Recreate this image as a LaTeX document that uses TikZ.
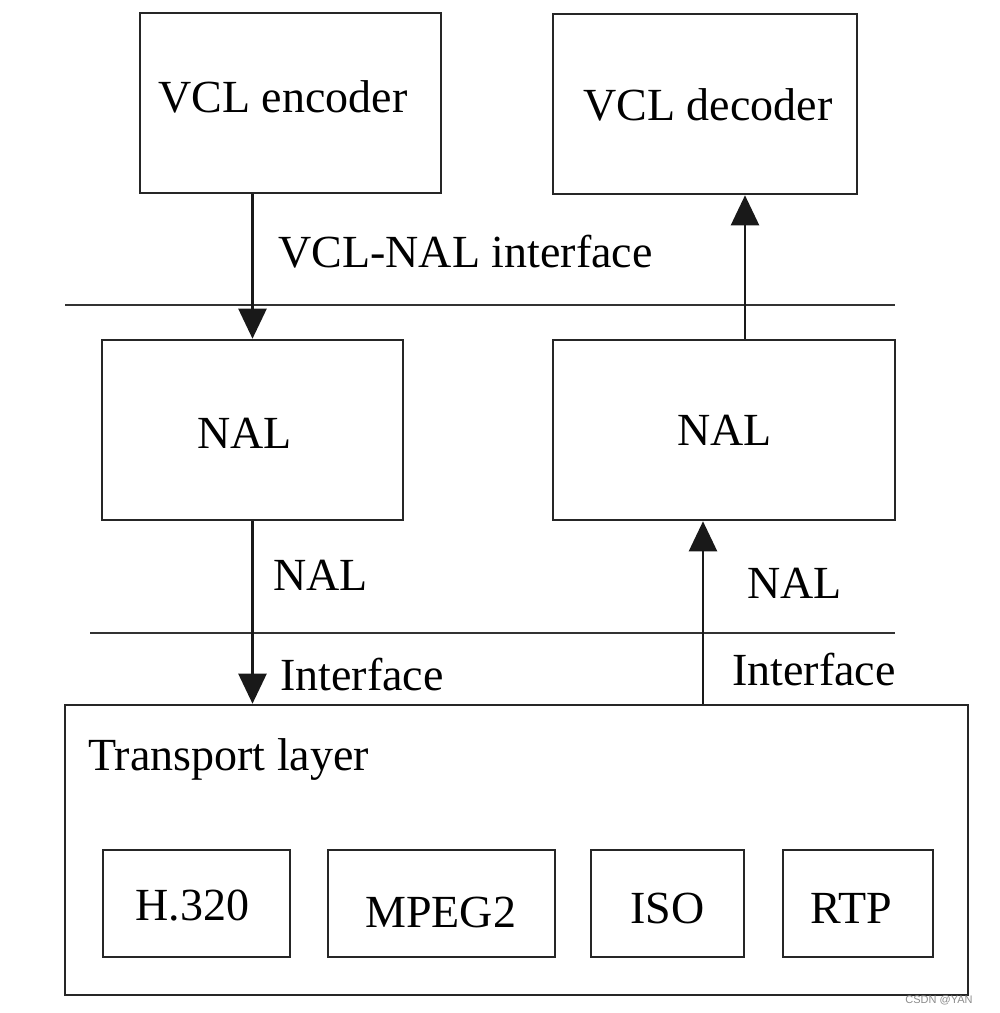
\documentclass[tikz,border=0pt]{standalone}
\usepackage{fontspec}
\setmainfont{Liberation Serif}
\newfontfamily\wmfont{Liberation Sans}
\usetikzlibrary{arrows.meta}
\begin{document}
\begin{tikzpicture}[x=0.5pt,y=-0.5pt,
  box/.style={draw=black!85, line width=1.3pt, inner sep=0pt, font=\fontsize{23}{27}\selectfont},
  lbl/.style={inner sep=0pt, anchor=base west, font=\fontsize{23}{27}\selectfont},
  conn/.style={draw=black!90, line width=1.2pt, -{Triangle[width=14pt,length=15pt]}},
  sep/.style={draw=black!80, line width=1.3pt}]
\useasboundingbox (0,0) rectangle (1000,1013);
% boxes
\node[box, minimum width=150.5pt, minimum height=90pt] (enc) at (290.5,103) {};
\node[box, minimum width=152pt, minimum height=90pt] (dec) at (705,104) {};
\node[box, minimum width=150.5pt, minimum height=90pt] (nalL) at (252.5,430) {};
\node[box, minimum width=171pt, minimum height=90pt] (nalR) at (724,430) {};
\node[box, minimum width=451.5pt, minimum height=145pt] (trans) at (516.5,850) {};
\node[box, minimum width=93.5pt, minimum height=53.5pt] (h320) at (196.5,903.5) {};
\node[box, minimum width=113.5pt, minimum height=53.5pt] (mpeg) at (441.5,903.5) {};
\node[box, minimum width=76.5pt, minimum height=53.5pt] (iso) at (667.5,903.5) {};
\node[box, minimum width=75pt, minimum height=53.5pt] (rtp) at (858,903.5) {};
% box texts
\node[lbl] (tenc) at (158,112) {VCL encoder};
\node[lbl] (tdec) at (583,120) {VCL decoder};
\node[lbl] (tnalL) at (197,448) {NAL};
\node[lbl] (tnalR) at (677,445) {NAL};
\node[lbl] (ttrans) at (88,770) {Transport layer};
\node[lbl] (th320) at (135,920) {H.320};
\node[lbl] (tmpeg) at (365,927) {MPEG2};
\node[lbl] (tiso) at (630,923) {ISO};
\node[lbl] (trtp) at (810,923) {RTP};
% interface lines
\coordinate (s1a) at (65,305); \coordinate (s1b) at (895,305);
\coordinate (s2a) at (90,633); \coordinate (s2b) at (895,633);
\draw[sep] (s1a) -- (s1b);
\draw[sep] (s2a) -- (s2b);
% labels
\node[lbl] (lvn) at (278,267) {VCL-NAL interface};
\node[lbl] (lnal1) at (273,590) {NAL};
\node[lbl] (lif1) at (280,690) {Interface};
\node[lbl] (lnal2) at (747,598) {NAL};
\node[lbl] (lif2) at (732,685) {Interface};
% connectors
\coordinate (xr1) at (745,0);
\coordinate (xr2) at (703,0);
\draw[conn] (enc.south -| nalL.north) -- (nalL.north);
\draw[conn] (nalL.south) -- (trans.north -| nalL.south);
\draw[conn] (nalR.north -| xr1) -- (dec.south -| xr1);
\draw[conn] (trans.north -| xr2) -- (nalR.south -| xr2);
% watermark
\node[inner sep=0pt, anchor=base west, text=black!45, font=\wmfont\fontsize{5.5}{6}\selectfont] (wm) at (905,1003) {CSDN @YAN};
\end{tikzpicture}
\end{document}
